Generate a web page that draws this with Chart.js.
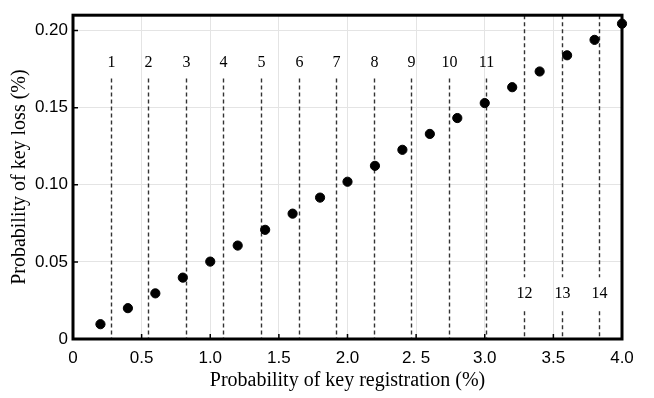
<!DOCTYPE html>
<html lang="en">
  <head>
    <meta charset="UTF-8" />
    <title>Key loss vs key registration</title>
    <script src="https://cdn.jsdelivr.net/npm/chart.js@4"></script>
    <style>
      html, body { margin: 0; padding: 0; background: #fff; }
    </style>
  </head>
  <body>
    <canvas id="lossChart" width="654" height="398"></canvas>

    <script>
      // values
      const registration = [0.2, 0.4, 0.6, 0.8, 1.0, 1.2, 1.4, 1.6, 1.8, 2.0,
                            2.2, 2.4, 2.6, 2.8, 3.0, 3.2, 3.4, 3.6, 3.8, 4.0];
      const keyLoss = [0.0096, 0.0200, 0.0296, 0.0398, 0.0502, 0.0606, 0.0708, 0.0813, 0.0917, 0.1020,
                       0.1123, 0.1227, 0.1330, 0.1433, 0.1530, 0.1633, 0.1735, 0.1840, 0.1940, 0.2045];

      const cutPositions = [0.275, 0.544, 0.823, 1.091, 1.37, 1.647, 1.914,
                            2.193, 2.46, 2.74, 3.007, 3.286, 3.565, 3.832];
      const cutLabels = ["1", "2", "3", "4", "5", "6", "7", "8", "9", "10", "11", "12", "13", "14"];

      const xTicks = [0, 0.5, 1.0, 1.5, 2.0, 2.5, 3.0, 3.5, 4.0];
      const xTickLabels = ["0", "0.5", "1.0", "1.5", "2.0", "2. 5", "3.0", "3.5", "4.0"];
      const yTicks = [0, 0.05, 0.10, 0.15, 0.20];
      const yTickLabels = ["0", "0.05", "0.10", "0.15", "0.20"];

      const tickFont = { family: "'Liberation Sans', Arial, sans-serif", size: 17 };
      const serif = "'Liberation Serif', 'Times New Roman', serif";

      // frame, inward tick marks and the numbered dashed cut lines
      const overlay = {
        id: "overlay",
        beforeDatasetsDraw(chart) {
          const { ctx, chartArea: a, scales: { x, y } } = chart;
          ctx.save();

          // dashed cut lines + numbers
          ctx.strokeStyle = "#333";
          ctx.lineWidth = 1.4;
          ctx.setLineDash([4, 3]);
          ctx.fillStyle = "#000";
          ctx.font = "16px " + serif;
          ctx.textAlign = "center";
          ctx.textBaseline = "middle";
          cutPositions.forEach((v, i) => {
            const px = Math.round(x.getPixelForValue(v)) + 0.5;
            ctx.beginPath();
            if (i < 11) {
              ctx.moveTo(px, y.getPixelForValue(0.169));
              ctx.lineTo(px, a.bottom);
              ctx.stroke();
              ctx.fillText(cutLabels[i], px, y.getPixelForValue(0.179));
            } else {
              ctx.moveTo(px, a.top);
              ctx.lineTo(px, y.getPixelForValue(0.04));
              ctx.moveTo(px, y.getPixelForValue(0.018));
              ctx.lineTo(px, a.bottom);
              ctx.stroke();
              ctx.fillText(cutLabels[i], px, y.getPixelForValue(0.029));
            }
          });
          ctx.setLineDash([]);

          // inward ticks
          ctx.strokeStyle = "#000";
          ctx.lineWidth = 1.5;
          ctx.beginPath();
          xTicks.forEach(v => {
            const px = x.getPixelForValue(v);
            ctx.moveTo(px, a.bottom);
            ctx.lineTo(px, a.bottom - 5);
          });
          yTicks.forEach(v => {
            const py = y.getPixelForValue(v);
            ctx.moveTo(a.left, py);
            ctx.lineTo(a.left + 5, py);
          });
          ctx.stroke();

          // frame
          ctx.lineWidth = 3;
          ctx.strokeRect(a.left, a.top, a.right - a.left, a.bottom - a.top);
          ctx.restore();
        }
      };

      new Chart(document.getElementById("lossChart"), {
        type: "scatter",
        data: {
          datasets: [
            {
              data: registration.map((v, i) => ({ x: v, y: keyLoss[i] })),
              backgroundColor: "#000",
              borderColor: "#000",
              pointRadius: 4.6,
              pointHoverRadius: 4.6,
              clip: false
            }
          ]
        },
        options: {
          responsive: false,
          animation: false,
          devicePixelRatio: 1,
          layout: { padding: { top: 3, right: 32, left: 0, bottom: 0 } },
          plugins: {
            legend: { display: false },
            tooltip: { enabled: false }
          },
          scales: {
            x: {
              type: "linear",
              min: 0,
              max: 4,
              afterBuildTicks: s => { s.ticks = xTicks.map(v => ({ value: v })); },
              afterFit: s => { s.height = 59; },
              ticks: {
                callback: (v, i) => xTickLabels[i],
                font: tickFont,
                color: "#000",
                padding: 9,
                maxRotation: 0,
                autoSkip: false
              },
              grid: { color: "#e4e4e4", lineWidth: 1, drawTicks: false },
              border: { display: false },
              title: {
                display: true,
                text: "Probability of key registration (%)",
                font: { family: serif, size: 20 },
                color: "#000",
                padding: { top: 0, bottom: 5 }
              }
            },
            y: {
              type: "linear",
              min: 0,
              max: 0.21,
              afterBuildTicks: s => { s.ticks = yTicks.map(v => ({ value: v })); },
              afterFit: s => { s.width = 73; },
              ticks: {
                callback: (v, i) => yTickLabels[i],
                font: tickFont,
                color: "#000",
                padding: 5
              },
              grid: { color: "#e4e4e4", lineWidth: 1, drawTicks: false },
              border: { display: false },
              title: {
                display: true,
                text: "Probability of key loss (%)",
                font: { family: serif, size: 20 },
                color: "#000",
                padding: { top: 8, bottom: 0 }
              }
            }
          }
        },
        plugins: [overlay]
      });
    </script>
  </body>
</html>
